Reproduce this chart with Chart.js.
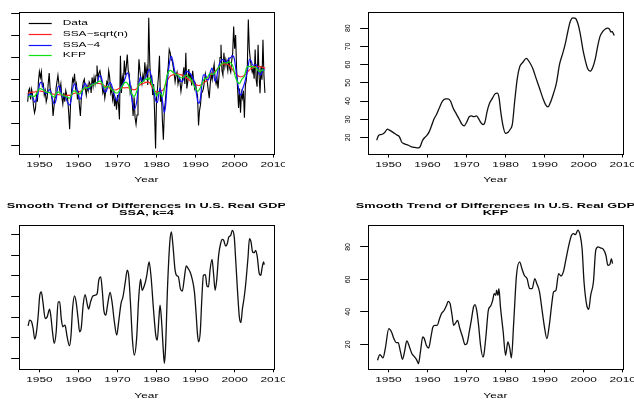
<!DOCTYPE html>
<html>
<head>
<meta charset="utf-8">
<script src="https://cdn.jsdelivr.net/npm/chart.js@4.4.1/dist/chart.umd.min.js"></script>
<style>
  html, body { margin: 0; padding: 0; background: #fff; overflow: hidden; }
  #page { position: relative; width: 634px; height: 404px; overflow: hidden; background: #fff; }
  canvas { position: absolute; }
</style>
</head>
<body>
<div id="page">
  <canvas id="c1" width="317" height="202" style="left:-32px; top:0"></canvas>
  <canvas id="c2" width="317" height="202" style="left:317px; top:0"></canvas>
  <canvas id="c3" width="317" height="202" style="left:-32px; top:202px"></canvas>
  <canvas id="c4" width="317" height="202" style="left:317px; top:202px"></canvas>
</div>
<script>
// quarterly differences in real GDP, starting 1947 Q1
const firstQuarter = 1947.0;
const gdpDiff = [
  0, 25, 30, 5,      28, 15, -10, -25,   -15, 15, 0, 45,     68, 55, 68, 35,
  40, 15, 25, 0,     10, 40, 65, 30,     20, 5, -32, -10,    10, 30, 45, 60,
  40, 25, 40, 10,    -5, 20, 0, 25,      15, 5, -25, -62,    0, 25, 52, 45,
  63, 30, 40, 5,     25, -10, -32, 10,   30, 45, 51, 30,     15, 35, 25, 45,
  40, 20, 55, 35,    55, 40, 60, 82,     50, 65, 70, 55,     40, 20, 30, 8,
  25, 45, 40, 70,    55, 20, 30, 5,      20, -10, 10, -18,   15, -5, -40, 104,
  20, 55, 40, 93,    60, 80, 107, 70,    63, 20, 30, 5,      -32, 10, -36, -51,
  -30, 40, 96, 70,   50, 40, 60, 45,     89, 60, 75, 38,     190, 93, 38, 60,
  15, 40, -25, -106, 10, 30, 60, 104,    0, 20, -43, -86,    -20, 0, 30, 60,
  80, 118, 111, 95,  93, 80, 65, 45,     60, 67, 40, 52,     45, 23, 40, 60,
  78, 40, 111, 30,   45, 74, 55, 60,     37, 70, 48, 30,     40, 25, 12, -54,
  -20, -7, 20, 22,   30, 45, 63, 50,     45, 25, 8, 40,      63, 50, 70, 85,
  52, 40, 52, 30,    60, 100, 129, 70,   60, 111, 80, 96,    85, 70, 100, 75,
  67, 93, 110, 170,  120, 151, 74, 30,   -14, 30, -25, 20,   8, 25, -36, 37,
  50, 80, 186, 120,  96, 80, 67, 75,     52, 118, 50, 34,    129, 60, 19, 80,
  50, 140, 60, 20
];

// SSA with window sqrt(n)
const ssaSqrtYears = [
  1947.0, 1947.45, 1948.05, 1948.7, 1949.15, 1949.75, 1950.25, 1951.1, 1952.15, 1952.8,
  1953.4, 1954.0, 1955.1, 1955.95, 1956.8, 1957.65, 1958.1, 1958.75, 1959.8, 1960.4,
  1961.05, 1961.65, 1962.35, 1963.2, 1963.85, 1964.7, 1965.3, 1965.9, 1966.6, 1967.45,
  1968.15, 1968.8, 1969.4, 1970.0, 1970.7, 1971.3, 1971.85, 1972.55, 1973.05, 1973.65,
  1974.25, 1974.7, 1975.3, 1975.95, 1976.65, 1977.25, 1977.9, 1978.35, 1978.75, 1979.35,
  1979.95, 1980.65, 1981.25, 1981.75, 1982.35, 1983.0, 1983.6, 1984.45, 1985.3, 1986.15,
  1987.0, 1987.85, 1988.7, 1989.55, 1990.25, 1990.85, 1991.45, 1992.3, 1993.0, 1993.85,
  1994.7, 1995.35, 1995.95, 1996.55, 1997.25, 1997.9, 1998.5, 1999.1, 1999.8, 2000.45,
  2001.05, 2001.65, 2002.35, 2003.05, 2003.6, 2004.2, 2004.9, 2005.55, 2006.15, 2006.6,
  2007.0, 2007.3, 2007.6, 2007.85
];
const ssaSqrtValues = [
  18.4, 21, 21.6, 22, 23, 24.6, 24, 22.9, 21.4, 20.5,
  17.5, 16.6, 15.7, 14.8, 14.5, 14.3, 14.8, 18.4, 21, 22.9,
  26.4, 30, 32.7, 37, 40, 41.2, 41.2, 40, 36, 32.7,
  30, 27.3, 26.4, 28.2, 31.4, 31.8, 31.4, 31.8, 30.5, 28.2,
  27, 28.2, 34.5, 39, 41.6, 43.8, 44.3, 41.6, 34.5, 26.4,
  22.3, 22.9, 24.6, 27.3, 40, 52.3, 58.6, 61.3, 63.4, 61.3,
  57.7, 52.3, 47, 41.6, 38, 36.8, 39, 44.3, 49.6, 60.4,
  66.6, 72, 78.2, 83.6, 85.7, 85.4, 82.7, 77.3, 68.4, 62.1,
  57.7, 56.4, 58.6, 63.9, 70.2, 75.5, 78.2, 79.6, 80, 79.5,
  77.9, 78.2, 77, 76
];

// SSA with k = 4
const ssa4Years = [
  1947.1, 1947.5, 1948.0, 1948.4, 1948.8, 1949.2, 1949.7, 1950.1, 1950.5, 1950.9,
  1951.5, 1952.0, 1952.6, 1952.9, 1953.4, 1953.8, 1954.3, 1954.8, 1955.2, 1955.6,
  1956.0, 1956.5, 1956.7, 1957.1, 1957.7, 1958.1, 1958.5, 1959.0, 1959.4, 1959.9,
  1960.3, 1960.7, 1961.2, 1961.7, 1962.3, 1962.6, 1963.1, 1963.7, 1964.3, 1964.8,
  1965.2, 1965.7, 1966.1, 1966.5, 1967.0, 1967.5, 1968.1, 1968.6, 1969.2, 1969.8,
  1970.3, 1970.9, 1971.4, 1972.0, 1972.5, 1972.9, 1973.4, 1973.8, 1974.3, 1974.9,
  1975.4, 1975.9, 1976.3, 1976.9, 1977.2, 1977.5, 1978.1, 1978.6, 1979.2, 1979.8,
  1980.2, 1980.6, 1980.9, 1981.3, 1981.7, 1982.0, 1982.3, 1982.8, 1983.4, 1983.8,
  1984.2, 1984.7, 1985.1, 1985.6, 1986.1, 1986.6, 1987.1, 1987.6, 1988.1, 1988.6,
  1989.1, 1989.7, 1990.1, 1990.5, 1990.8, 1991.2, 1991.6, 1992.0, 1992.5, 1992.9,
  1993.3, 1993.7, 1994.2, 1994.6, 1995.0, 1995.4, 1995.9, 1996.4, 1996.8, 1997.2,
  1997.7, 1998.1, 1998.5, 1999.0, 1999.4, 1999.9, 2000.3, 2000.7, 2001.2, 2001.6,
  2002.0, 2002.4, 2002.8, 2003.4, 2003.8, 2004.2, 2004.6, 2005.0, 2005.4, 2005.8,
  2006.3, 2006.7, 2007.0, 2007.4, 2007.6
];
const ssa4Values = [
  11.6, 17.1, 15.5, 9, -1.3, 4.2, 21.9, 41.3, 44.5, 34.8,
  18.7, 20.3, 27.7, 21.9, 4.2, -5.5, 5.8, 34.8, 34.8, 18.7,
  10.6, 12.3, 10.6, 1, -7.7, 2.6, 28.4, 40.6, 34.8, 18.7,
  5.8, 9, 31.6, 41.9, 31.6, 27.7, 34.8, 40.6, 41.3, 42.9,
  55.8, 59, 46.1, 26.8, 21.9, 33.2, 43.9, 34.8, 15.5, 2.6,
  15.5, 33.2, 39.7, 54.2, 65.5, 59, 28.4, -0.6, -16.8, -0.6,
  36.5, 56.8, 46.1, 51, 55, 60.6, 73.5, 59, 28.4, 2.6,
  -2.3, 18.7, 31.6, 15.5, -10.3, -24.8, -10.3, 47.7, 92.9, 102.6,
  89.7, 67.1, 60.6, 59, 47.7, 45.2, 57.4, 69.7, 67.1, 63.9,
  57.4, 44.5, 25.2, 2.6, -3.9, 5.8, 38.1, 60.6, 61.3, 50.3,
  49.4, 65.5, 76.1, 62.3, 46.1, 55.8, 80, 91.3, 95.5, 94.5,
  89, 91.3, 97.7, 99.4, 104.2, 97.7, 73.5, 47.7, 20.3, 14.8,
  28.4, 38.1, 51, 76.8, 96.1, 92.9, 83.2, 82.6, 84.8, 78.4,
  62.3, 60.6, 67.1, 73.5, 71
];

// Kalman filter predictor
const kfpYears = [
  1947.2, 1947.8, 1948.2, 1948.6, 1949.2, 1950.1, 1950.8, 1951.4, 1952.0, 1952.5,
  1953.1, 1953.6, 1954.2, 1954.7, 1955.4, 1956.0, 1956.7, 1957.3, 1957.7, 1958.2,
  1958.8, 1959.2, 1959.7, 1960.3, 1960.9, 1961.4, 1961.9, 1962.5, 1963.1, 1963.6,
  1964.3, 1964.9, 1965.3, 1965.8, 1966.3, 1966.7, 1967.1, 1967.7, 1968.3, 1969.0,
  1969.6, 1970.1, 1970.7, 1971.3, 1971.8, 1972.2, 1972.6, 1973.1, 1973.6, 1974.2,
  1974.5, 1975.0, 1975.6, 1976.2, 1976.7, 1977.1, 1977.5, 1977.7, 1978.05, 1978.3,
  1978.7, 1979.4, 1980.0, 1980.6, 1981.1, 1981.5, 1982.1, 1982.8, 1983.6, 1984.2,
  1984.8, 1985.5, 1986.2, 1986.8, 1987.5, 1988.0, 1988.7, 1989.3, 1989.9, 1990.6,
  1991.2, 1991.9, 1992.3, 1992.9, 1993.6, 1994.2, 1994.8, 1995.5, 1996.2, 1996.9,
  1997.4, 1997.9, 1998.5, 1999.1, 1999.6, 2000.1, 2000.8, 2001.3, 2001.8, 2002.5,
  2003.1, 2003.7, 2004.3, 2005.0, 2005.7, 2006.2, 2006.7, 2007.1, 2007.4
];
const kfpValues = [
  10.1, 13.6, 12.8, 11.6, 17.3, 29.7, 27.6, 23.5, 21, 21,
  15.3, 10.8, 16.3, 22.1, 18.4, 14.3, 12.2, 10.1, 8.1, 15.3,
  24.5, 23.5, 19.4, 17.7, 24.5, 30.7, 31.7, 31.7, 35.8, 38.9,
  41, 44, 46.5, 45.1, 37.9, 31.7, 32.7, 34.8, 29.7, 24.5,
  19.8, 20.4, 27.6, 35.8, 43, 44.5, 41, 31.7, 19.4, 12.2,
  14.3, 25.6, 41, 43.6, 47.1, 51.2, 50.2, 53.3, 50.2, 54.3,
  43, 27.6, 13.2, 21.4, 17.3, 11.6, 33.8, 62.5, 70.8, 66.6,
  62.5, 60.5, 54.3, 54.3, 60.5, 57.4, 52.3, 42, 31.7, 23.5,
  31.7, 46.1, 52.3, 53.3, 63.6, 62.1, 64.6, 72.8, 81, 87.2,
  88.2, 87.6, 90.3, 87.2, 79, 58.4, 44, 41.6, 50.2, 58.4,
  77.9, 80, 79.4, 78.6, 74.9, 68.7, 69.1, 72.8, 69.7
];

const yearTicks = [1950, 1960, 1970, 1980, 1990, 2000, 2010];
const diffTicks = [-100, -50, 0, 50, 100, 150, 200];
const ssaSqrtTicks = [20, 30, 40, 50, 60, 70, 80];
const ssa4Ticks = [-20, 0, 20, 40, 60, 80, 100];
const kfpTicks = [20, 40, 60, 80];

const titleLine = 'Smooth Trend of Differences in U.S. Real GDP';
const legendLabels = ['Data', 'SSA\u2212sqrt(n)', 'SSA\u22124', 'KFP'];

// ---- drawing ----
const FONT = "'Liberation Sans', Arial, Helvetica, sans-serif";
const SX = 1.7;      // horizontal text in the source is drawn wide
const Y_AXIS_W = 30;

function toPoints(xs, ys) {
  return ys.map((v, i) => ({ x: xs[i], y: v }));
}
const dataPoints = gdpDiff.map((v, i) => ({ x: firstQuarter + i / 4, y: v }));

// stretch horizontal text like the R device did
const wideText = {
  id: 'wideText',
  beforeInit(chart) {
    const ctx = chart.ctx;
    const draw = ctx.fillText;
    ctx.fillText = function (text, x, y) {
      const m = this.getTransform();
      if (Math.abs(m.b) > 1e-6) {
        draw.call(this, text, x, y);
        return;
      }
      this.save();
      this.translate(x, y);
      this.scale(SX, 1);
      draw.call(this, text, 0, 0);
      this.restore();
    };
  }
};

const plotBox = {
  id: 'plotBox',
  afterDatasetsDraw(chart) {
    const { ctx, chartArea: a } = chart;
    const l = Math.round(a.left), t = Math.round(a.top);
    const r = Math.round(a.right), b = Math.round(a.bottom);
    ctx.save();
    ctx.strokeStyle = '#000';
    ctx.lineWidth = 1;
    ctx.strokeRect(l + 0.5, t + 0.5, r - l, b - t);
    ctx.restore();
  }
};

const insetLegend = {
  id: 'insetLegend',
  afterDraw(chart) {
    const { ctx, chartArea: a } = chart;
    ctx.save();
    ctx.font = '7px ' + FONT;
    ctx.textBaseline = 'middle';
    ctx.textAlign = 'left';
    chart.data.datasets.forEach((ds, i) => {
      const y = Math.round(a.top + 11 + i * 10.67) + 0.5;
      ctx.strokeStyle = ds.borderColor;
      ctx.lineWidth = 1.2;
      ctx.beginPath();
      ctx.moveTo(a.left + 10, y);
      ctx.lineTo(a.left + 33, y);
      ctx.stroke();
      ctx.fillStyle = '#000';
      ctx.fillText(ds.label, a.left + 44, y);
    });
    ctx.restore();
  }
};

function panelOptions(p) {
  const titleH = 15;
  return {
    responsive: false,
    animation: false,
    events: [],
    layout: {
      autoPadding: false,
      padding: { left: 50.7 - Y_AXIS_W, right: 10.3, top: p.title ? 0 : p.boxTop, bottom: 0 }
    },
    elements: { point: { radius: 0 } },
    plugins: {
      legend: { display: false },
      tooltip: { enabled: false },
      title: p.title ? {
        display: true,
        text: p.title,
        fullSize: false,
        color: '#000',
        font: { family: FONT, size: 7.5, weight: 'bold', lineHeight: 1 },
        padding: { top: p.titleTop, bottom: p.boxTop - titleH - p.titleTop }
      } : { display: false }
    },
    scales: {
      x: {
        type: 'linear',
        min: 1944.7,
        max: 2010.1,
        afterBuildTicks: s => { s.ticks = yearTicks.map(v => ({ value: v })); },
        afterFit: s => { s.height = 202 - p.boxBottom; },
        border: { display: false },
        grid: { drawOnChartArea: false, drawTicks: true, tickLength: 3.5, color: '#000', lineWidth: 1 },
        ticks: {
          color: '#000', font: { family: FONT, size: 7 }, padding: 3.5,
          maxRotation: 0, autoSkip: false, callback: v => String(v)
        },
        title: {
          display: true, text: 'Year', color: '#000',
          font: { family: FONT, size: 7 }, padding: { top: 0, bottom: p.yearPad }
        }
      },
      y: {
        type: 'linear',
        min: p.yMin,
        max: p.yMax,
        afterBuildTicks: s => { s.ticks = p.yTicks.map(v => ({ value: v })); },
        afterFit: s => { s.width = Y_AXIS_W; },
        border: { display: false },
        grid: { drawOnChartArea: false, drawTicks: true, tickLength: 7.5, color: '#000', lineWidth: 1 },
        ticks: {
          color: '#000', font: { family: FONT, size: 7 }, padding: 8,
          minRotation: 90, maxRotation: 90, crossAlign: 'center',
          autoSkip: false, callback: v => String(v)
        }
      }
    }
  };
}

function smoothLine(label, points, color, order, width) {
  return {
    label: label,
    data: points,
    borderColor: color,
    borderWidth: width,
    pointRadius: 0,
    cubicInterpolationMode: 'monotone',
    fill: false,
    order: order
  };
}

new Chart(document.getElementById('c1'), {
  type: 'line',
  data: {
    datasets: [
      { label: legendLabels[0], data: dataPoints, borderColor: '#000', borderWidth: 1.1, pointRadius: 0, tension: 0, order: 3 },
      smoothLine(legendLabels[1], toPoints(ssaSqrtYears, ssaSqrtValues), '#ff2020', 2, 1.1),
      smoothLine(legendLabels[2], toPoints(ssa4Years, ssa4Values), '#1010ff', 1, 1.2),
      smoothLine(legendLabels[3], toPoints(kfpYears, kfpValues), '#10e010', 0, 1.2)
    ]
  },
  options: panelOptions({ yMin: -118.3, yMax: 202.6, yTicks: diffTicks, boxTop: 8, boxBottom: 154, yearPad: 17.8 }),
  plugins: [wideText, plotBox, insetLegend]
});

new Chart(document.getElementById('c2'), {
  type: 'line',
  data: { datasets: [smoothLine('SSA', toPoints(ssaSqrtYears, ssaSqrtValues), '#111', 0, 1.3)] },
  options: panelOptions({ yMin: 10.9, yMax: 88.8, yTicks: ssaSqrtTicks, boxTop: 8.5, boxBottom: 154, yearPad: 17.8 }),
  plugins: [wideText, plotBox]
});

new Chart(document.getElementById('c3'), {
  type: 'line',
  data: { datasets: [smoothLine('SSA-4', toPoints(ssa4Years, ssa4Values), '#111', 0, 1.3)] },
  options: panelOptions({
    yMin: -30.1, yMax: 109.7, yTicks: ssa4Ticks, boxTop: 22.7, boxBottom: 166.8, yearPad: 3.5,
    title: [titleLine, 'SSA, k=4'], titleTop: 0
  }),
  plugins: [wideText, plotBox]
});

new Chart(document.getElementById('c4'), {
  type: 'line',
  data: { datasets: [smoothLine('KFP', toPoints(kfpYears, kfpValues), '#111', 0, 1.3)] },
  options: panelOptions({
    yMin: 4.9, yMax: 93.7, yTicks: kfpTicks, boxTop: 22.7, boxBottom: 166.8, yearPad: 3.5,
    title: [titleLine, 'KFP'], titleTop: 0
  }),
  plugins: [wideText, plotBox]
});
</script>
</body>
</html>
